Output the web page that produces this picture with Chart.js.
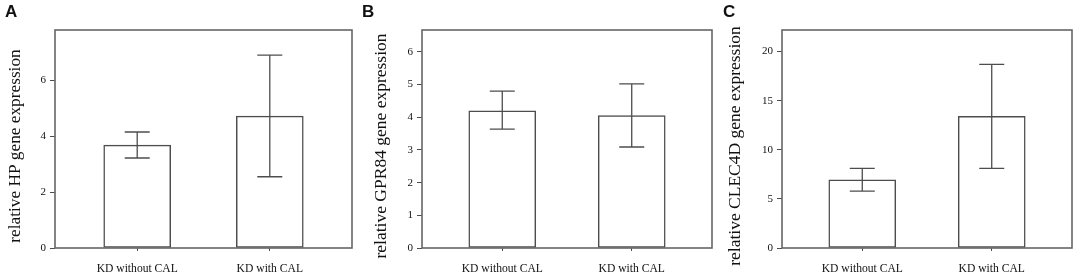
<!DOCTYPE html>
<html>
<head>
<meta charset="utf-8">
<script src="https://cdn.jsdelivr.net/npm/chart.js@4/dist/chart.umd.min.js"></script>
<style>
  html, body { margin: 0; padding: 0; background: #fff; }
  #wrap { position: relative; width: 1084px; height: 276px; overflow: hidden; }
  .panel { position: absolute; top: 0; height: 276px; }
  .letter { position: absolute; top: 2px; font: bold 17px "Liberation Sans", Arial, sans-serif; color: #111; }
</style>
</head>
<body>
<div id="wrap">
  <div class="panel" style="left:0;width:360px"><canvas id="chartA"></canvas></div>
  <div class="panel" style="left:360px;width:360px"><canvas id="chartB"></canvas></div>
  <div class="panel" style="left:720px;width:364px"><canvas id="chartC"></canvas></div>
  <div class="letter" style="left:5px">A</div>
  <div class="letter" style="left:362px">B</div>
  <div class="letter" style="left:723px">C</div>
</div>
<script>
// categories shared by all three panels
const categories = ["KD without CAL", "KD with CAL"];

// A — HP
const hpMean = [3.68, 4.72];
const hpHigh = [4.15, 6.9];
const hpLow  = [3.22, 2.55];

// B — GPR84
const gprMean = [4.2, 4.05];
const gprHigh = [4.8, 5.02];
const gprLow  = [3.64, 3.09];

// C — CLEC4D
const clecMean = [6.95, 13.4];
const clecHigh = [8.1, 18.7];
const clecLow  = [5.8, 8.1];

const LINE = "#4d4d4d";
const SERIF = "'Liberation Serif', 'Times New Roman', serif";

// ── box around plot area, error bars, y title ─────────────────────────────
const boxAndErrors = {
  id: "boxAndErrors",
  afterDatasetsDraw(chart, args, opts) {
    const { ctx, chartArea: a, scales: { x, y } } = chart;
    ctx.save();
    ctx.strokeStyle = LINE;
    ctx.lineWidth = 1.3;
    (opts.high || []).forEach((hi, i) => {
      const cx = x.getPixelForValue(i + 1);
      const yh = y.getPixelForValue(hi);
      const yl = y.getPixelForValue(opts.low[i]);
      ctx.beginPath();
      ctx.moveTo(cx, yh); ctx.lineTo(cx, yl);
      ctx.moveTo(cx - 12.5, yh); ctx.lineTo(cx + 12.5, yh);
      ctx.moveTo(cx - 12.5, yl); ctx.lineTo(cx + 12.5, yl);
      ctx.stroke();
    });
    ctx.strokeStyle = "#666";
    ctx.lineWidth = 1.6;
    ctx.strokeRect(a.left, a.top, a.right - a.left, a.bottom - a.top);

    // y-axis title, sitting a little below the middle like the original
    ctx.translate(opts.titleX, (a.top + a.bottom) / 2 + opts.titleShift);
    ctx.rotate(-Math.PI / 2);
    ctx.fillStyle = "#111";
    ctx.font = `${opts.titleSize}px ${SERIF}`;
    ctx.textAlign = "center";
    ctx.textBaseline = "middle";
    ctx.fillText(opts.title, 0, 0);
    ctx.restore();
  },
};

function makePanel(id, mean, hi, lo, cfg) {
  new Chart(document.getElementById(id).getContext("2d"), {
    type: "bar",
    data: {
      datasets: [{
        data: mean.map((v, i) => ({ x: i + 1, y: v })),
        backgroundColor: "#ffffff",
        borderColor: LINE,
        borderWidth: 1.5,
        borderSkipped: false,
        barThickness: 67,
      }],
    },
    options: {
      responsive: true,
      maintainAspectRatio: false,
      animation: false,
      layout: { padding: { top: 30, right: cfg.padRight, bottom: 0, left: 0 } },
      plugins: {
        legend: { display: false },
        tooltip: { enabled: false },
        boxAndErrors: {
          high: hi, low: lo,
          title: cfg.title, titleSize: cfg.titleSize, titleX: cfg.titleX, titleShift: 7,
        },
      },
      scales: {
        x: {
          type: "linear",
          offset: false,
          bounds: "data",
          min: 0.38,
          max: 2.62,
          afterBuildTicks: s => { s.ticks = [{ value: 1 }, { value: 2 }]; },
          afterFit: s => { s.height = 28; },
          ticks: {
            callback: v => categories[v - 1],
            color: "#111",
            font: { family: SERIF, size: 11.6 },
            padding: 11,
            maxRotation: 0,
          },
          grid: { offset: false, drawOnChartArea: false, drawTicks: true, tickLength: 3, color: LINE, tickColor: LINE },
          border: { display: false },
        },
        y: {
          min: 0,
          max: cfg.max,
          afterFit: s => { s.width = cfg.axisWidth; },
          ticks: {
            stepSize: cfg.step,
            includeBounds: false,
            color: "#111",
            font: { family: SERIF, size: 11 },
            padding: 4,
          },
          grid: { drawOnChartArea: false, drawTicks: true, tickLength: 5, color: LINE, tickColor: LINE },
          border: { display: false },
        },
      },
    },
    plugins: [boxAndErrors],
  });
}

makePanel("chartA", hpMean, hpHigh, hpLow,
  { max: 7.8, step: 2, axisWidth: 55, padRight: 8, title: "relative HP gene expression", titleSize: 17.3, titleX: 15 });
makePanel("chartB", gprMean, gprHigh, gprLow,
  { max: 6.67, step: 1, axisWidth: 62, padRight: 8, title: "relative GPR84 gene expression", titleSize: 17.5, titleX: 21 });
makePanel("chartC", clecMean, clecHigh, clecLow,
  { max: 22.2, step: 5, axisWidth: 62, padRight: 12, title: "relative CLEC4D gene expression", titleSize: 17.5, titleX: 15 });
</script>
</body>
</html>
